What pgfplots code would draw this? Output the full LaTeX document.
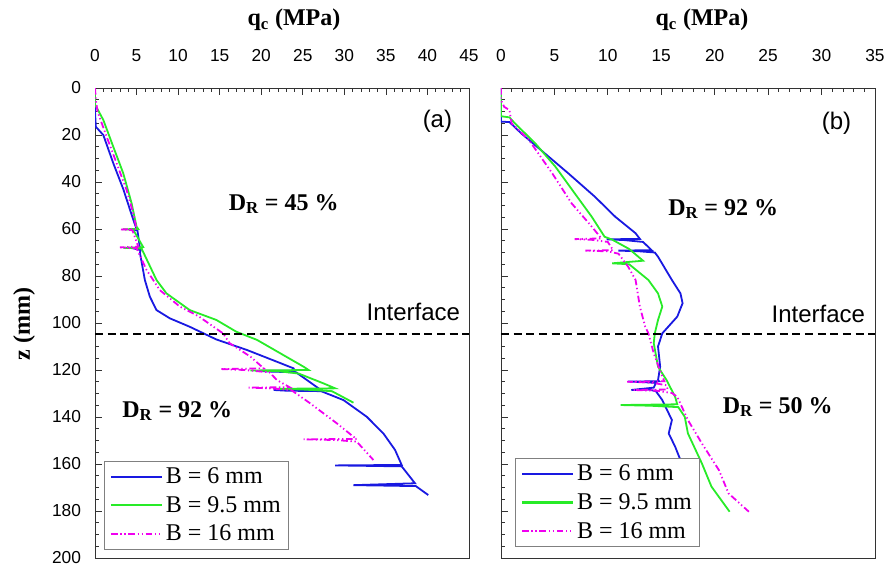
\documentclass[border=0pt]{standalone}
\usepackage{fontspec}
\setmainfont{Liberation Serif}
\setsansfont{Liberation Sans}
\usepackage{pgfplots}
\pgfplotsset{compat=1.18}
\definecolor{cblue}{RGB}{25,25,225}
\definecolor{cgreen}{RGB}{40,235,40}
\definecolor{cmag}{RGB}{240,0,240}
\tikzset{
  txt/.style={font=\fontsize{18}{20}\selectfont\bfseries},
  stxt/.style={font=\fontsize{18}{20}\selectfont\sffamily},
  sB/.style={draw=cblue, line width=1.35pt},
  sG/.style={draw=cgreen, line width=1.35pt},
  sM/.style={draw=cmag, line width=1.35pt, dash pattern=on 5pt off 2pt on 1pt off 2pt on 1pt off 2pt},
  sI/.style={draw=black, line width=1.5pt, dash pattern=on 6pt off 3.5pt},
}
\pgfplotsset{
  panel/.style={
    scale only axis, width=280.5pt, height=352.5pt,
    anchor=south west,
    y dir=reverse, ymin=0, ymax=200,
    xmin=0,
    axis line style={black!80, line width=0.6pt},
    xtick pos=upper, ytick pos=left,
    xticklabel pos=upper,
    tick align=inside,
    major tick length=5pt, minor tick length=3pt,
    tick style={black!80, line width=0.5pt},
    minor x tick num=4, minor y tick num=3,
    ytick={0,20,...,200},
    ticklabel style={font=\fontsize{13}{15}\selectfont\sffamily},
    /pgf/number format/assume math mode=true,
    xticklabel style={yshift=16pt},
    yticklabel style={xshift=-7pt},
    legend cell align=left,
    legend style={draw=gray, line width=0.8pt, fill=white,
      font=\fontsize{18}{20}\selectfont, anchor=south west,
      row sep=4pt, inner xsep=4pt, inner ysep=3pt},
    legend image code/.code={\draw[##1, line width=1.6pt] (0cm,0cm) -- (1.35cm,0cm);},
  },
}
\begin{document}
\begin{tikzpicture}
\path[use as bounding box] (0,0) rectangle (665.25pt,429pt);
% ---------------- panel (a)
\begin{axis}[panel, at={(71.25pt,10.5pt)}, xmax=45, xtick={0,5,...,45},
  legend style={at={(0.024,0.017)}}]
\addplot[sB] coordinates {(0,0) (0,5) (0,10) (0.1,16.5) (1.0,20) (2.2,32) (3.4,43) (4.6,56) (5.0,60) (4.2,60.2) (5.1,60.5) (5.4,68) (4.6,68.2) (5.5,69) (5.4,70) (6.0,81.7) (6.6,88.8) (7.4,94.5) (9.0,98) (11.4,101.6) (14.6,107) (18.3,111.5) (21.9,116.5) (23.9,119.3) (24.0,120.3) (19.9,120.3) (20.5,120.6) (24.2,121) (27.1,128.3) (21.5,128.5) (23,128.8) (27.2,129) (29.9,132.8) (32.7,139.9) (34.7,147) (36.1,154) (36.9,160.4) (28.9,160.6) (33,160.8) (36.9,161) (38.5,168.2) (31.1,169) (35,169.2) (38.6,169.4) (40.1,173.2)};
\addlegendentry{B = 6 mm}
\addplot[sG] coordinates {(0,0) (0,3) (0,7) (1.0,13.6) (2.2,25) (3.4,36.3) (4.4,49) (5.0,59) (5.2,60) (3.4,60.1) (4.6,60.3) (5.8,67.7) (3.4,68) (5.6,68.3) (6.5,75) (7.4,81.7) (8.6,87.4) (11.4,94.5) (14.6,98.7) (17.0,103.7) (19.5,107.2) (22.3,112.9) (25.1,118.6) (25.7,120) (18.7,120.2) (22,120.5) (24.5,121.5) (27.5,125.7) (28.9,127.8) (21.9,128) (25,128.3) (28.5,129) (31.1,133.9)};
\addlegendentry{B = 9.5 mm}
\addplot[sM] coordinates {(0,0) (0.1,5) (0.3,10) (1.4,20.7) (2.6,32) (3.8,43.4) (4.6,53.3) (5.0,60) (3.0,60.2) (4.5,60.5) (5.2,67.5) (3.0,67.8) (5.0,68.2) (6.2,77.4) (7.8,86) (10.2,93) (12.4,97) (15.4,104.4) (16.2,108.6) (18.7,114.3) (20.3,119.3) (15.2,119.6) (18,120) (21.0,121) (21.9,124.3) (23.4,127.3) (18.5,127.5) (21,127.8) (23.6,128.5) (25.9,134.2) (29.1,142.7) (31.1,148.4) (31.5,149.3) (25.1,149.5) (29,149.8) (31.5,150.5) (33.5,158.3)};
\addlegendentry{B = 16 mm}
\addplot[sI, forget plot] coordinates {(0,104.5) (45,104.5)};
\node[stxt] at (axis cs:41.2,14) {(a)};
\node[txt] at (axis cs:22.7,49.4) {D\textsubscript{R} = 45 \%};
\node[stxt] at (axis cs:38.3,95.3) {Interface};
\node[txt] at (axis cs:9.9,137.4) {D\textsubscript{R} = 92 \%};
\end{axis}
% ---------------- panel (b)
\begin{axis}[panel, at={(375.7pt,10.5pt)}, xmax=35, xtick={0,5,...,35},
  yticklabels={}, legend style={at={(0.038,0.023)}}]
\addplot[sB] coordinates {(0,0) (0,5) (0,10) (0,14.3) (0.8,14.5) (1.9,19.3) (4.1,27.8) (6.3,36.3) (8.8,46.3) (10.7,54.8) (12.6,61.8) (13.0,64.2) (9.9,64.4) (11.5,64.7) (13.3,65.5) (14.1,69) (11.0,69.2) (13,69.5) (14.4,70) (14.7,71.8) (16.0,81.7) (16.8,87.4) (17.0,91.6) (16.5,97.3) (15.1,104.4) (14.7,110) (14.9,118.6) (14.7,124.3) (14.8,124.8) (11.9,124.9) (13.5,125.2) (14.5,125.5) (14.3,127.5) (12.2,128.5) (13.8,128.3) (14.5,129) (15.1,132.8) (16.0,141.3) (15.7,147) (16.3,152.6) (16.8,158.3)};
\addlegendentry{B = 6 mm}
\addplot[sG] coordinates {(0,0) (0,3.7) (0,12) (0.8,12.5) (1.3,15) (3.2,23.5) (5.1,33.5) (6.9,44.8) (8.5,54.8) (9.7,63.3) (10.4,64.5) (12.0,68.5) (13.3,73.5) (10.4,74.6) (12.0,75) (13.8,81.7) (14.7,87.4) (15.1,93) (14.7,98.7) (14.4,104.4) (14.3,108.6) (14.7,118.6) (15.5,124.3) (16.3,131.4) (16.5,134.6) (11.2,134.9) (14,135.2) (16.6,135.8) (17.2,139.9) (17.5,147) (18.8,159.7) (19.7,169.6) (21.4,180.3)};
\addlegendentry{B = 9.5 mm}
\addplot[sM] coordinates {(0,0) (0,5) (0.3,8) (0.8,9.4) (1.0,15) (2.6,22) (4.8,36.3) (6.6,49) (8.5,59) (9.4,64) (6.9,64.3) (8.5,64.6) (10,65.5) (10.5,69) (7.9,69.2) (10,69.5) (11,70.5) (11.9,76) (12.6,81.7) (13.0,93) (13.5,101.6) (13.8,104.4) (14.3,112.9) (15.1,122.8) (15.3,124.8) (11.8,125) (14,125.3) (15.5,126.5) (15.6,128.3) (12.4,128.5) (14.5,128.8) (16.0,129.8) (16.5,131.4) (17.5,141.3) (18.8,151.2) (20.4,162.6) (21.3,172.5) (23.2,180.3)};
\addlegendentry{B = 16 mm}
\addplot[sI, forget plot] coordinates {(0,104.5) (35,104.5)};
\node[stxt] at (axis cs:31.4,14.9) {(b)};
\node[txt] at (axis cs:20.8,51.5) {D\textsubscript{R} = 92 \%};
\node[stxt] at (axis cs:29.7,96.2) {Interface};
\node[txt] at (axis cs:25.9,135.7) {D\textsubscript{R} = 50 \%};
\end{axis}
% ---------------- outer labels
\node[txt] at (220.5pt,414pt) {q\textsubscript{c} (MPa)};
\node[txt] at (526.5pt,414pt) {q\textsubscript{c} (MPa)};
\node[txt, rotate=90] at (18pt,186pt) {z (mm)};
\end{tikzpicture}
\end{document}
